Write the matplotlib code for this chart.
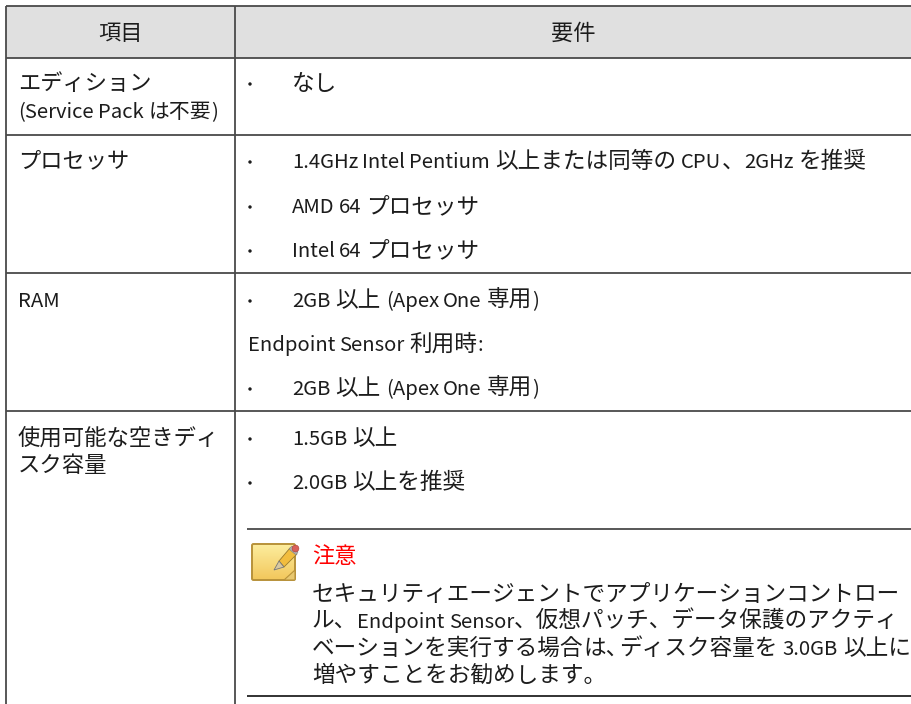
import re
import matplotlib
matplotlib.use('Agg')
import matplotlib.pyplot as plt
import matplotlib.font_manager as fm
from matplotlib.ft2font import LoadFlags
from matplotlib.patches import Polygon, FancyBboxPatch, Circle, Rectangle
import numpy as np

FAMILY = 'Noto Sans CJK JP'
plt.rcParams['font.family'] = [FAMILY, 'DejaVu Sans']

headers = ['項目', '要件']
left_cells = [
    (18, 90, 'エディション', 16.0),
    (18, 118, '(Service Pack は不要)', 15.0),
    (18, 167, 'プロセッサ', 16.0),
    (18, 307, 'RAM', 16.0),
    (18, 445, '使用可能な空きディ', 16.1),
    (18, 472, 'スク容量', 16.1),
]
bullets = [
    (292, 90, 'なし'),
    (292, 168, '1.4GHz Intel Pentium 以上または同等の CPU、2GHz を推奨'),
    (292, 213, 'AMD 64 プロセッサ'),
    (292, 257, 'Intel 64 プロセッサ'),
    (292, 307, '2GB 以上 (Apex One 専用)'),
    (292, 395, '2GB 以上 (Apex One 専用)'),
    (292, 445, '1.5GB 以上'),
    (292, 489, '2.0GB 以上を推奨'),
]
plain = [(248, 351, 'Endpoint Sensor 利用時:')]
note_title = '注意'
note_lines = [
    'セキュリティエージェントでアプリケーションコントロー',
    'ル、Endpoint Sensor、仮想パッチ、データ保護のアクティ',
    'ベーションを実行する場合は、ディスク容量を 3.0GB 以上に',
    '増やすことをお勧めします。',
]
note_y = [601, 628, 655, 682]

LATIN_SIZE = 14.6
WORD_GAP = 4
EDGE_GAP = 5
DPI = 100

fig = plt.figure(figsize=(9.12, 7.04), dpi=DPI)
ax = fig.add_axes([0, 0, 1, 1])
ink = '#1c1c1c'
rule = '#4a4a4a'


def advance(s, size):
    font = fm.get_font(fm.findfont(FAMILY))
    font.set_size(size, DPI)
    total = 0
    for ch in s:
        total += font.load_char(ord(ch), flags=LoadFlags.NO_HINTING).linearHoriAdvance / 65536
    return total


# latin runs are set smaller than the japanese ones in the original,
# with narrow word spaces
def mixed_text(x, y, s, size, color=ink):
    for run in re.split(r'([ -~]+|は、)', s):
        if not run:
            continue
        if run[0] < '\u0080':
            if run[0] == ' ':
                x += EDGE_GAP
            words = run.split()
            for i, word in enumerate(words):
                ax.text(x, y, word, ha='left', va='baseline', fontsize=LATIN_SIZE, color=color)
                x += advance(word, LATIN_SIZE)
                if i < len(words) - 1:
                    x += WORD_GAP
            if run[-1] == ' ':
                x += EDGE_GAP
        else:
            ax.text(x, y, run, ha='left', va='baseline', fontsize=size, color=color)
            x += advance(run, size)
            # the comma after は is set half width in the note
            if run == 'は、':
                x -= 10


# header band
ax.add_patch(Rectangle((6, 6), 906, 51.5, fc='#e0e0e0', ec='none', zorder=0))

# table rules
for y in [6, 57.5, 134.5, 272.5, 411]:
    ax.plot([6, 912], [y, y], color=rule, lw=1.3, solid_capstyle='butt')
ax.plot([6, 6], [6, 704], color=rule, lw=1.3, solid_capstyle='butt')
ax.plot([235.5, 235.5], [6, 704], color=rule, lw=1.3, solid_capstyle='butt')

# note rules
ax.plot([247, 912], [529, 529], color=rule, lw=1.3, solid_capstyle='butt')
ax.plot([247, 912], [696, 696], color='#222222', lw=1.3, solid_capstyle='butt')

ax.text(121, 40, headers[0], ha='center', va='baseline', fontsize=16, color=ink)
ax.text(573, 40, headers[1], ha='center', va='baseline', fontsize=16, color=ink)

for x, y, s, size in left_cells:
    mixed_text(x, y, s, size)
for x, y, s in bullets:
    mixed_text(x, y, s, 16.3)
    ax.add_patch(Circle((250, y - 6), 1.7, fc=ink, ec='none'))
for x, y, s in plain:
    mixed_text(x, y, s, 16.3)

# note icon
grad = np.linspace(0, 1, 64).reshape(-1, 1)
top = np.array([0.99, 0.93, 0.62])
bottom = np.array([0.95, 0.78, 0.36])
img = top + (bottom - top) * grad[:, :, None]
ax.imshow(img, extent=(252, 295, 580, 544), aspect='auto', zorder=2)
ax.add_patch(FancyBboxPatch((252, 544), 43, 36, boxstyle='round,pad=0,rounding_size=1.5',
                            fc='none', ec='#b8923a', lw=1.4, zorder=3))
ax.add_patch(Polygon([[284, 580], [295, 570], [295, 580]], fc='#e8c870', ec='#b8923a', lw=0.8, zorder=4))
ax.add_patch(Polygon([[279, 561], [290, 548], [297, 554], [284, 567]], fc='#f2bd3e', ec='#9a7a2a', lw=0.6, zorder=5))
ax.add_patch(Polygon([[279, 561], [284, 567], [274, 570]], fc='#d8c8a0', ec='#777777', lw=0.6, zorder=5))
ax.add_patch(Polygon([[289, 549], [292, 546], [298, 552], [296, 555]], fc='#b0b0b0', ec='#808080', lw=0.4, zorder=6))
ax.add_patch(Circle((295.5, 548.5), 3.4, fc='#d9605a', ec='#a8403a', lw=0.4, zorder=7))

mixed_text(312, 563, note_title, 16.0, color='#ff0000')
for y, s in zip(note_y, note_lines):
    mixed_text(312, y, s, 16.3)

ax.set_xlim(0, 912)
ax.set_ylim(704, 0)
ax.axis('off')

fig.savefig('out.png', dpi=DPI)
